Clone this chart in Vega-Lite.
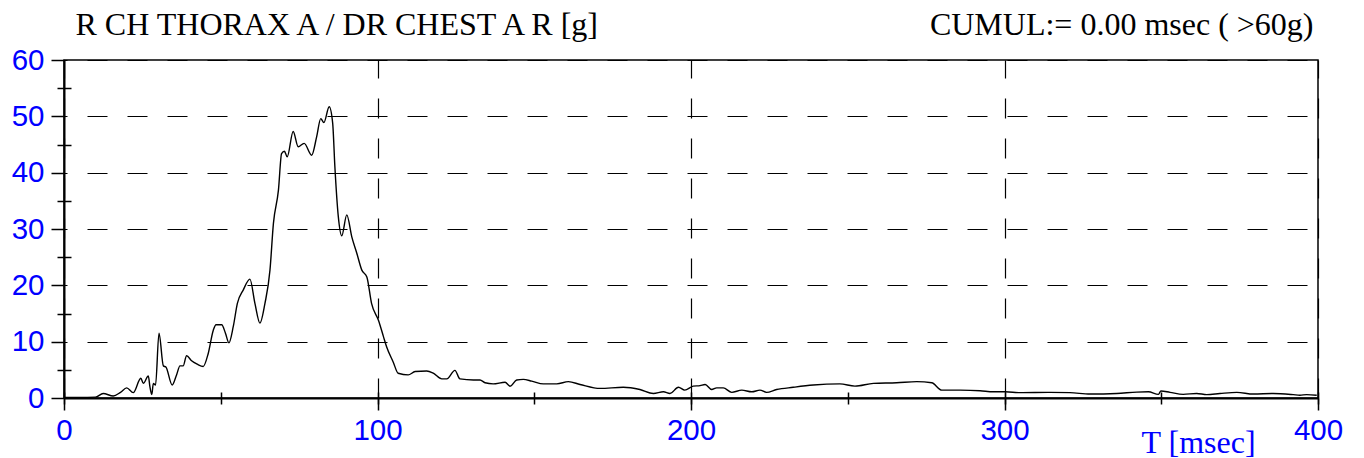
{
  "$schema": "https://vega.github.io/schema/vega-lite/v6.json",
  "width": 1254,
  "height": 338,
  "autosize": {"type": "none"},
  "padding": {"left": 64, "top": 60, "right": 46, "bottom": 60},
  "background": "white",
  "config": {
    "view": {"stroke": "black", "strokeWidth": 1.5},
    "axis": {"domainColor": "black", "tickColor": "black", "gridColor": "black", "gridOpacity": 1, "domainWidth": 2, "tickWidth": 1.5, "gridWidth": 1.2, "gridDash": [20, 20], "labelFont": "Liberation Sans", "labelFontSize": 29.5, "labelColor": "#0000FF", "titleFont": "Liberation Serif", "titleFontSize": 32, "titleFontWeight": "normal", "labelFlush": false, "labelOverlap": false}
  },
  "data": {"values": [
    {"t": 0, "v": 0.1}, {"t": 5, "v": 0.1}, {"t": 10, "v": 0.15}, {"t": 12.5, "v": 0.8}, {"t": 15.7, "v": 0.35},
    {"t": 18, "v": 1.0}, {"t": 20, "v": 1.8}, {"t": 22.1, "v": 0.95}, {"t": 24.5, "v": 3.5}, {"t": 25.3, "v": 2.6},
    {"t": 26.9, "v": 3.9}, {"t": 27.4, "v": 2.0}, {"t": 28, "v": 0.6}, {"t": 28.5, "v": 2.6}, {"t": 29.2, "v": 2.3},
    {"t": 30.3, "v": 11.5}, {"t": 31.7, "v": 5.7}, {"t": 32.5, "v": 5.5}, {"t": 34.5, "v": 2.3}, {"t": 35.9, "v": 4.1},
    {"t": 37, "v": 5.7}, {"t": 38, "v": 5.7}, {"t": 39.1, "v": 7.5}, {"t": 40.7, "v": 6.6}, {"t": 42.5, "v": 6.0},
    {"t": 44.4, "v": 5.6}, {"t": 46, "v": 7.9}, {"t": 47.6, "v": 12.0}, {"t": 48.5, "v": 13.0}, {"t": 50.3, "v": 13.0},
    {"t": 51.5, "v": 11.5}, {"t": 52.6, "v": 9.8}, {"t": 54, "v": 12.7}, {"t": 55.3, "v": 16.8}, {"t": 57.2, "v": 19.2},
    {"t": 59.3, "v": 21.1}, {"t": 60.9, "v": 16.8}, {"t": 62.5, "v": 13.3}, {"t": 64.1, "v": 16.8}, {"t": 65.7, "v": 22.7},
    {"t": 66.8, "v": 31}, {"t": 68.4, "v": 36.9}, {"t": 69.4, "v": 43.4}, {"t": 70.3, "v": 43.8}, {"t": 71.2, "v": 42.8},
    {"t": 73.1, "v": 47.3}, {"t": 74.7, "v": 44.6}, {"t": 76.6, "v": 45.2}, {"t": 79, "v": 43.1}, {"t": 80.6, "v": 46.4},
    {"t": 81.9, "v": 49.6}, {"t": 82.9, "v": 48.9}, {"t": 84.6, "v": 51.7}, {"t": 85.7, "v": 48.8}, {"t": 86.4, "v": 41.1},
    {"t": 87.5, "v": 32.2}, {"t": 88.6, "v": 28.8}, {"t": 90.2, "v": 32.5}, {"t": 91.8, "v": 28.6}, {"t": 93.4, "v": 25.7},
    {"t": 95, "v": 22.7}, {"t": 96.6, "v": 21.5}, {"t": 98.1, "v": 16.8}, {"t": 100.3, "v": 13.8}, {"t": 101.9, "v": 10.9},
    {"t": 102.9, "v": 9.1}, {"t": 105, "v": 6.4}, {"t": 106.6, "v": 4.4}, {"t": 109.8, "v": 4.1}, {"t": 112, "v": 4.7},
    {"t": 115.7, "v": 4.8}, {"t": 117.8, "v": 4.4}, {"t": 120.5, "v": 3.4}, {"t": 122.1, "v": 3.4}, {"t": 124.7, "v": 4.9},
    {"t": 126.3, "v": 3.4}, {"t": 130.6, "v": 3.2}, {"t": 132.7, "v": 3.2}, {"t": 134.3, "v": 2.7}, {"t": 136.9, "v": 2.5},
    {"t": 140.7, "v": 2.8}, {"t": 142.3, "v": 2.1}, {"t": 144.4, "v": 3.2}, {"t": 146.5, "v": 3.3}, {"t": 149.2, "v": 3.0},
    {"t": 152.9, "v": 2.5}, {"t": 157.2, "v": 2.5}, {"t": 160.9, "v": 2.9}, {"t": 164.6, "v": 2.4}, {"t": 171, "v": 1.7},
    {"t": 178.4, "v": 1.9}, {"t": 183.7, "v": 1.5}, {"t": 188, "v": 0.8}, {"t": 191.2, "v": 1.1}, {"t": 193.3, "v": 0.8},
    {"t": 196, "v": 1.9}, {"t": 198, "v": 1.4}, {"t": 200.7, "v": 2.1}, {"t": 202.9, "v": 2.2}, {"t": 204.5, "v": 2.4},
    {"t": 206.6, "v": 1.5}, {"t": 208.2, "v": 1.8}, {"t": 210.3, "v": 1.8}, {"t": 213, "v": 1.0}, {"t": 216.2, "v": 1.4},
    {"t": 219.4, "v": 1.1}, {"t": 222, "v": 1.4}, {"t": 224.1, "v": 1.0}, {"t": 227.3, "v": 1.5}, {"t": 232.6, "v": 1.9},
    {"t": 239, "v": 2.3}, {"t": 247.5, "v": 2.5}, {"t": 252.3, "v": 2.1}, {"t": 258.2, "v": 2.6}, {"t": 265.6, "v": 2.7},
    {"t": 272, "v": 2.9}, {"t": 276.8, "v": 2.7}, {"t": 280, "v": 1.4}, {"t": 285.9, "v": 1.4}, {"t": 292.2, "v": 1.3},
    {"t": 296.4, "v": 1.1}, {"t": 300.2, "v": 1.1}, {"t": 305, "v": 0.95}, {"t": 314.5, "v": 1.0}, {"t": 320.9, "v": 0.95},
    {"t": 327.3, "v": 0.7}, {"t": 335.8, "v": 0.8}, {"t": 342.2, "v": 1.05}, {"t": 345.9, "v": 1.1}, {"t": 349.1, "v": 0.65},
    {"t": 349.9, "v": 1.25}, {"t": 352.8, "v": 1.0}, {"t": 357, "v": 0.65}, {"t": 361.3, "v": 0.8}, {"t": 364.5, "v": 0.6},
    {"t": 368.7, "v": 0.8}, {"t": 374.1, "v": 1.0}, {"t": 379.4, "v": 0.7}, {"t": 385.7, "v": 0.8}, {"t": 392.1, "v": 0.6},
    {"t": 394.2, "v": 0.5}, {"t": 396.4, "v": 0.6}, {"t": 399.6, "v": 0.5}
  ]},
  "layer": [
    {
      "mark": {"type": "line", "color": "black", "strokeWidth": 1.4, "interpolate": "monotone", "clip": true},
      "encoding": {
        "x": {"field": "t", "type": "quantitative", "scale": {"domain": [0, 400], "nice": false},
          "axis": {"orient": "bottom", "values": [0, 100, 200, 300, 400], "tickSize": 12, "labelPadding": 6, "grid": true, "gridDashOffset": 2,
            "title": "T [msec]", "titleColor": "#0000FF", "titleX": 1077, "titleY": 54, "titleAlign": "left", "titleBaseline": "alphabetic", "titleAnchor": null}},
        "y": {"field": "v", "type": "quantitative", "scale": {"domain": [0, 60], "nice": false},
          "axis": {"orient": "left", "values": [0, 10, 20, 30, 40, 50, 60], "tickSize": 13, "labelPadding": 7, "grid": true, "gridDashOffset": 17,
            "title": "R CH THORAX A / DR CHEST A R [g]", "titleColor": "black", "titleAngle": 0, "titleX": 11, "titleY": -26, "titleAlign": "left", "titleBaseline": "alphabetic"}}
      }
    },
    {
      "mark": {"type": "line", "opacity": 0},
      "encoding": {
        "x": {"field": "t", "type": "quantitative",
          "axis": {"orient": "bottom", "offset": -6, "values": [0, 50, 100, 150, 200, 250, 300, 350, 400], "tickSize": 12, "labels": false, "domain": false, "grid": false, "title": null}},
        "y": {"field": "v", "type": "quantitative",
          "axis": {"orient": "left", "offset": -7, "values": [5, 15, 25, 35, 45, 55], "tickSize": 14, "labels": false, "domain": false, "grid": false,
            "title": "CUMUL:= 0.00 msec ( >60g)", "titleColor": "black", "titleAngle": 0, "titleX": 1242, "titleY": -26, "titleAlign": "right", "titleBaseline": "alphabetic"}}
      }
    }
  ],
  "resolve": {"axis": {"x": "independent", "y": "independent"}}
}
